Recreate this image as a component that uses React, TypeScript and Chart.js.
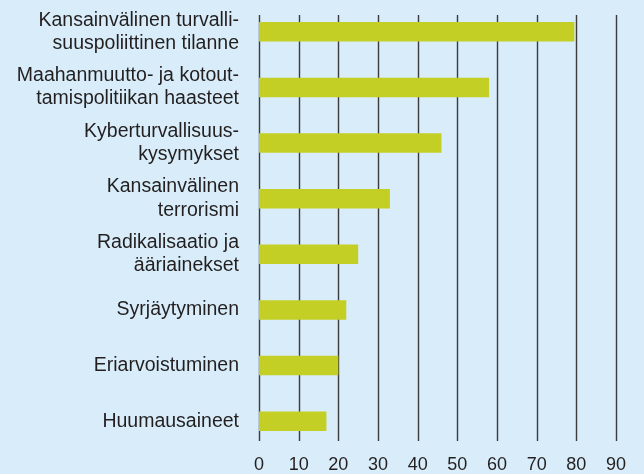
import React, { useEffect, useRef } from "react";
import { Chart, registerables } from "chart.js";

Chart.register(...registerables);

const categories: string[][] = [
  ["Kansainvälinen turvalli-", "suuspoliittinen tilanne"],
  ["Maahanmuutto- ja kotout-", "tamispolitiikan haasteet"],
  ["Kyberturvallisuus-", "kysymykset"],
  ["Kansainvälinen", "terrorismi"],
  ["Radikalisaatio ja", "ääriainekset"],
  ["Syrjäytyminen"],
  ["Eriarvoistuminen"],
  ["Huumausaineet"],
];
const values: number[] = [79.5, 58, 46, 33, 25, 22, 20, 17];
const xTicks: number[] = [0, 10, 20, 30, 40, 50, 60, 70, 80, 90];

const gridPlugin = {
  id: "customGrid",
  beforeDatasetsDraw(chart: any) {
    const { ctx, chartArea, scales } = chart;
    const x = scales.x;
    ctx.save();
    ctx.strokeStyle = "#3b3b3b";
    ctx.lineWidth = 1.4;
    xTicks.forEach((v) => {
      const px = Math.round(x.getPixelForValue(v)) + 0.5;
      ctx.beginPath();
      ctx.moveTo(px, chartArea.top + 11);
      ctx.lineTo(px, chartArea.bottom - 8);
      ctx.stroke();
    });
    ctx.restore();
  },
};

export default function App() {
  const ref = useRef<HTMLCanvasElement>(null);
  useEffect(() => {
    if (!ref.current) return;
    const chart = new Chart(ref.current, {
      type: "bar",
      data: {
        labels: categories as any,
        datasets: [
          {
            data: values,
            backgroundColor: "#c3cf24",
            borderWidth: 0,
            categoryPercentage: 1,
            barPercentage: 0.35,
          },
        ],
      },
      options: {
        indexAxis: "y",
        animation: false,
        responsive: false,
        maintainAspectRatio: false,
        layout: { padding: { top: 4, right: 28, bottom: 0, left: 0 } },
        plugins: { legend: { display: false }, tooltip: { enabled: false } },
        scales: {
          x: {
            min: 0,
            max: 90,
            afterBuildTicks: (scale: any) => {
              scale.ticks = xTicks.map((v) => ({ value: v }));
            },
            afterFit: (scale: any) => {
              scale.height = 25;
              scale.paddingLeft = 0;
              scale.paddingRight = 0;
            },
            grid: { display: false, drawTicks: false },
            border: { display: false },
            ticks: {
              padding: 5,
              color: "#231f20",
              font: { family: "Liberation Sans, Arial, sans-serif", size: 18 },
            },
          },
          y: {
            afterFit: (scale: any) => {
              scale.width = 259;
              scale.paddingTop = 0;
              scale.paddingBottom = 0;
            },
            grid: { display: false, drawTicks: false },
            border: { display: false },
            ticks: {
              padding: 20,
              color: "#231f20",
              font: {
                family: "Liberation Sans, Arial, sans-serif",
                size: 19.5,
                lineHeight: 1.19,
              },
            },
          },
        },
      },
      plugins: [gridPlugin],
    });
    return () => chart.destroy();
  }, []);
  return (
    <div
      style={{
        position: "fixed",
        left: 0,
        top: 0,
        width: 644,
        height: 474,
        background: "#d8edf9",
      }}
    >
      <canvas ref={ref} width={644} height={474} style={{ width: 644, height: 474 }} />
    </div>
  );
}
